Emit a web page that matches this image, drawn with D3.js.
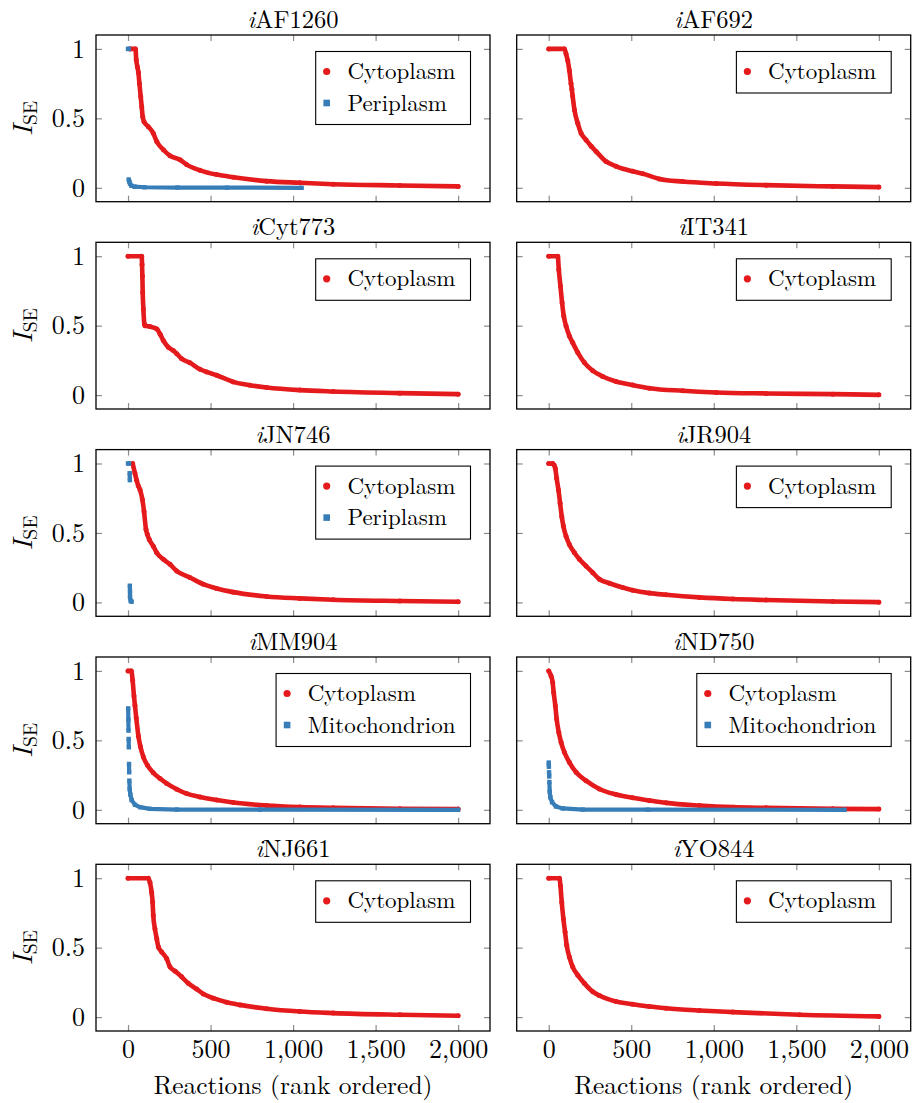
<!DOCTYPE html>
<html>
<head>
<meta charset="utf-8">
<script src="https://cdn.jsdelivr.net/npm/d3@7"></script>
<style>
  body { margin: 0; background: #fff; }
</style>
</head>
<body>
<svg id="chart" width="912" height="1103"></svg>
<script>
// Rank-ordered I_SE values per model and compartment.
// null marks a break between separate runs of points.
const models = ["AF1260", "AF692", "Cyt773", "IT341", "JN746", "JR904", "MM904", "ND750", "NJ661", "YO844"];
const xTicks = [0, 500, 1000, 1500, 2000];
const yTicks = [0, 0.5, 1];

const cytoRank_AF1260 = [12, 45, 50, 57, 63, 69, 77, 83, 89, 97, 123, 153, 174, 214, 254, 315, 355, 436, 537, 638, 840, 1041, 1243, 1647, 2000];
const cytoVal_AF1260  = [1, 1, 0.92, 0.87, 0.83, 0.75, 0.655, 0.583, 0.512, 0.476, 0.44, 0.393, 0.333, 0.274, 0.231, 0.202, 0.167, 0.126, 0.095, 0.076, 0.048, 0.036, 0.026, 0.017, 0.01];
const periRank_AF1260 = [0, 5, null, 4, 8, 12, 20, 40, 100, 300, 600, 1052];
const periVal_AF1260  = [1, 1, null, 0.06, 0.045, 0.03, 0.015, 0.008, 0.004, 0.002, 0.001, 0];

const cytoRank_AF692 = [0, 95, 105, 115, 125, 135, 140, 145, 156, 176, 196, 226, 257, 287, 347, 408, 509, 570, 671, 812, 1014, 1317, 1721, 2000];
const cytoVal_AF692  = [1, 1, 0.964, 0.917, 0.845, 0.75, 0.71, 0.66, 0.56, 0.464, 0.393, 0.345, 0.3, 0.262, 0.19, 0.155, 0.119, 0.102, 0.064, 0.045, 0.031, 0.019, 0.01, 0.005];

const cytoRank_Cyt773 = [0, 83, 85, 87, 89, 93, 99, 103, 133, 174, 194, 214, 244, 274, 295, 325, 375, 436, 476, 537, 638, 739, 840, 1041, 1243, 1647, 2000];
const cytoVal_Cyt773  = [1, 1, 0.94, 0.857, 0.738, 0.62, 0.512, 0.5, 0.493, 0.476, 0.44, 0.393, 0.345, 0.321, 0.298, 0.262, 0.233, 0.186, 0.167, 0.143, 0.095, 0.071, 0.055, 0.036, 0.026, 0.014, 0.007];

const cytoRank_IT341 = [0, 55, 61, 71, 81, 91, 105, 125, 145, 176, 216, 267, 327, 408, 509, 610, 812, 1014, 1317, 1721, 2000];
const cytoVal_IT341  = [1, 1, 0.904, 0.785, 0.665, 0.57, 0.498, 0.426, 0.378, 0.306, 0.234, 0.175, 0.134, 0.098, 0.072, 0.05, 0.031, 0.019, 0.012, 0.007, 0.002];

const cytoRank_JN746 = [28, 42, 52, 62, 73, 87, 97, 109, 117, 129, 153, 174, 214, 254, 295, 375, 456, 537, 638, 840, 1041, 1243, 1647, 2000];
const cytoVal_JN746  = [1, 0.93, 0.88, 0.84, 0.81, 0.74, 0.655, 0.524, 0.49, 0.452, 0.405, 0.357, 0.31, 0.274, 0.226, 0.179, 0.131, 0.1, 0.074, 0.043, 0.029, 0.019, 0.01, 0.005];
const periRank_JN746 = [0, 6, null, 10, 11, null, 11, 12, 12, 16, 22];
const periVal_JN746  = [1, 1, null, 0.93, 0.88, null, 0.12, 0.08, 0.04, 0.01, 0.005];

const cytoRank_JR904 = [0, 24, 32, 40, 48, 59, 69, 79, 89, 105, 125, 156, 186, 226, 267, 307, 368, 448, 509, 610, 711, 913, 1115, 1317, 1721, 2000];
const cytoVal_JR904  = [1, 1, 0.99, 0.964, 0.893, 0.81, 0.714, 0.619, 0.548, 0.476, 0.417, 0.357, 0.31, 0.262, 0.214, 0.167, 0.138, 0.107, 0.088, 0.067, 0.055, 0.036, 0.024, 0.017, 0.007, 0.002];

const cytoRank_MM904 = [0, 20, 28, 36, 42, 50, 63, 75, 93, 118, 153, 194, 234, 295, 355, 436, 537, 638, 840, 1041, 1243, 1647, 2000];
const cytoVal_MM904  = [1, 1, 0.93, 0.82, 0.75, 0.66, 0.53, 0.455, 0.38, 0.32, 0.267, 0.225, 0.19, 0.148, 0.117, 0.093, 0.07, 0.052, 0.031, 0.02, 0.014, 0.008, 0.005];
const mitoRank_MM904 = [1, 2, 3, null, 4, 5, null, 6, 7, null, 8, 10, 14, 22, 42, 73, 133, 295, 800, 2000];
const mitoVal_MM904  = [0.73, 0.65, 0.57, null, 0.51, 0.45, null, 0.33, 0.27, null, 0.21, 0.15, 0.11, 0.07, 0.036, 0.019, 0.007, 0.002, 0.001, 0];

const cytoRank_ND750 = [0, 14, 24, 30, 40, 48, 61, 75, 95, 125, 166, 226, 307, 408, 509, 610, 711, 913, 1115, 1317, 1721, 2000];
const cytoVal_ND750  = [1, 0.964, 0.916, 0.844, 0.749, 0.653, 0.557, 0.486, 0.414, 0.342, 0.27, 0.21, 0.15, 0.11, 0.086, 0.067, 0.05, 0.031, 0.019, 0.014, 0.007, 0.005];
const mitoRank_ND750 = [0, 1, null, 2, 3, null, 4, 6, 10, 20, 44, 85, 206, 600, 1792];
const mitoVal_ND750  = [0.34, 0.31, null, 0.27, 0.24, null, 0.2, 0.13, 0.09, 0.055, 0.024, 0.01, 0.002, 0.001, 0];

const cytoRank_NJ661 = [0, 123, 133, 143, 149, 153, 163, 174, 184, 204, 234, 254, 285, 325, 365, 416, 456, 517, 597, 678, 840, 1041, 1243, 1647, 2000];
const cytoVal_NJ661  = [1, 1, 0.969, 0.898, 0.826, 0.731, 0.636, 0.564, 0.505, 0.469, 0.421, 0.362, 0.331, 0.29, 0.243, 0.202, 0.167, 0.136, 0.107, 0.088, 0.06, 0.04, 0.029, 0.017, 0.01];

const cytoRank_YO844 = [0, 65, 71, 79, 89, 99, 109, 125, 145, 176, 216, 267, 307, 408, 509, 610, 711, 913, 1115, 1519, 2000];
const cytoVal_YO844  = [1, 1, 0.945, 0.826, 0.707, 0.612, 0.517, 0.433, 0.362, 0.302, 0.243, 0.183, 0.155, 0.112, 0.093, 0.076, 0.064, 0.048, 0.036, 0.017, 0.005];

const CYTO = { name: "Cytoplasm", color: "#e41a1c", shape: "circle" };
const PERI = { name: "Periplasm", color: "#377eb8", shape: "square" };
const MITO = { name: "Mitochondrion", color: "#377eb8", shape: "square" };

const panels = [
  { model: models[0], series: [[CYTO, cytoRank_AF1260, cytoVal_AF1260], [PERI, periRank_AF1260, periVal_AF1260]] },
  { model: models[1], series: [[CYTO, cytoRank_AF692, cytoVal_AF692]] },
  { model: models[2], series: [[CYTO, cytoRank_Cyt773, cytoVal_Cyt773]] },
  { model: models[3], series: [[CYTO, cytoRank_IT341, cytoVal_IT341]] },
  { model: models[4], series: [[CYTO, cytoRank_JN746, cytoVal_JN746], [PERI, periRank_JN746, periVal_JN746]] },
  { model: models[5], series: [[CYTO, cytoRank_JR904, cytoVal_JR904]] },
  { model: models[6], series: [[CYTO, cytoRank_MM904, cytoVal_MM904], [MITO, mitoRank_MM904, mitoVal_MM904]] },
  { model: models[7], series: [[CYTO, cytoRank_ND750, cytoVal_ND750], [MITO, mitoRank_ND750, mitoVal_ND750]] },
  { model: models[8], series: [[CYTO, cytoRank_NJ661, cytoVal_NJ661]] },
  { model: models[9], series: [[CYTO, cytoRank_YO844, cytoVal_YO844]] }
];

// ---- layout ----
const FONT = '"Latin Modern Roman", "Liberation Serif", serif';
const svg = d3.select("#chart");
const colX = [96, 516.7];
const rowY = [35, 242.3, 449.6, 657, 864.3];
const W = 394, H = 166.7;
const FS_TITLE = 24.5, FS_TICK = 26, FS_LABEL = 25.5, FS_YLABEL = 28, FS_LEGEND = 23;

const x = d3.scaleLinear().domain([-194, 2193]).range([0, W]);
const y = d3.scaleLinear().domain([-0.1, 1.1]).range([H, 0]);

const line = d3.line()
  .defined(d => d.v !== null)
  .x(d => x(d.r))
  .y(d => y(d.v));
const smoothLine = d3.line()
  .defined(d => d.v !== null)
  .curve(d3.curveMonotoneX)
  .x(d => x(d.r))
  .y(d => y(d.v));

const setFont = (sel, size) => sel.style("font-family", FONT).style("font-size", size + "px").attr("fill", "#000");

panels.forEach((p, i) => {
  const col = i % 2, row = Math.floor(i / 2);
  const g = svg.append("g").attr("transform", `translate(${colX[col]},${rowY[row]})`);

  // tick marks on all four sides, pointing inward
  const tickStyle = sel => {
    sel.attr("font-family", null).attr("font-size", null);
    sel.select(".domain").remove();
    sel.selectAll(".tick line").attr("stroke", "#8c8c8c").attr("stroke-width", 1.2);
  };
  const bottom = g.append("g").attr("transform", `translate(0,${H})`)
    .call(d3.axisBottom(x).tickValues(xTicks).tickSize(-6).tickPadding(9).tickFormat(d3.format(",")))
    .call(tickStyle);
  g.append("g").call(d3.axisTop(x).tickValues(xTicks).tickSize(-6).tickFormat("")).call(tickStyle);
  const left = g.append("g")
    .call(d3.axisLeft(y).tickValues(yTicks).tickSize(-6).tickPadding(11).tickFormat(d3.format("")))
    .call(tickStyle);
  g.append("g").attr("transform", `translate(${W},0)`)
    .call(d3.axisRight(y).tickValues(yTicks).tickSize(-6).tickFormat("")).call(tickStyle);

  bottom.selectAll("text").call(setFont, FS_TICK)
    .style("display", row === 4 ? null : "none");
  left.selectAll("text").call(setFont, FS_TICK)
    .style("display", col === 0 ? null : "none");

  // data
  p.series.forEach(([meta, ranks, vals]) => {
    const pts = ranks.map((r, k) => ({ r: r, v: vals[k] }));
    const sg = g.append("g");
    const isCirc = meta.shape === "circle";
    sg.append("path")
      .attr("d", (isCirc ? smoothLine : line)(pts))
      .attr("fill", "none")
      .attr("stroke", meta.color)
      .attr("stroke-width", isCirc ? 4.6 : 4.2)
      .attr("stroke-linecap", isCirc ? "round" : "butt")
      .attr("stroke-linejoin", "round");
    const valid = pts.filter(d => d.v !== null);
    if (isCirc) {
      sg.selectAll("circle").data(valid).join("circle")
        .attr("cx", d => x(d.r)).attr("cy", d => y(d.v)).attr("r", 2.5)
        .attr("fill", meta.color);
    } else {
      sg.selectAll("rect").data(valid).join("rect")
        .attr("x", d => x(d.r) - 2.2).attr("y", d => y(d.v) - 2.2)
        .attr("width", 4.4).attr("height", 4.4)
        .attr("fill", meta.color);
    }
  });

  // frame
  g.append("rect").attr("width", W).attr("height", H)
    .attr("fill", "none").attr("stroke", "#000").attr("stroke-width", 1.3);

  // title
  const t = g.append("text").attr("x", W / 2).attr("y", -7)
    .attr("text-anchor", "middle").call(setFont, FS_TITLE);
  t.append("tspan").style("font-style", "italic").text("i");
  t.append("tspan").text(p.model);

  // y-axis label
  if (col === 0) {
    const yl = g.append("text")
      .attr("transform", `translate(${32 - colX[0]},${H / 2}) rotate(-90)`)
      .attr("text-anchor", "middle").call(setFont, FS_YLABEL);
    yl.append("tspan").style("font-style", "italic").text("I");
    yl.append("tspan").style("font-size", (FS_YLABEL * 0.7) + "px").attr("dy", 5).text("SE");
  }

  // x-axis label
  if (row === 4) {
    g.append("text").attr("x", W / 2).attr("y", H + 63)
      .attr("text-anchor", "middle").call(setFont, FS_LABEL).text("Reactions (rank ordered)");
  }

  // legend, anchored at the upper right of the axes
  const lg = g.append("g");
  const box = lg.append("rect").attr("fill", "#fff").attr("stroke", "#000").attr("stroke-width", 1.1);
  let maxW = 0;
  p.series.forEach(([meta], k) => {
    const cy = 20 + 31.5 * k;
    if (meta.shape === "circle") {
      lg.append("circle").attr("cx", 11).attr("cy", cy).attr("r", 3.6).attr("fill", meta.color);
    } else {
      lg.append("rect").attr("x", 11 - 3.3).attr("y", cy - 3.3).attr("width", 6.6).attr("height", 6.6).attr("fill", meta.color);
    }
    const tx = lg.append("text").attr("x", 31.7).attr("y", cy).attr("dy", "0.33em")
      .call(setFont, FS_LEGEND).text(meta.name);
    maxW = Math.max(maxW, tx.node().getComputedTextLength());
  });
  const lw = 31.7 + maxW + 15;
  const lh = 10 + 31.5 * p.series.length;
  box.attr("width", lw).attr("height", lh);
  lg.attr("transform", `translate(${W - 19.5 - lw},16.5)`);
});
</script>
</body>
</html>
